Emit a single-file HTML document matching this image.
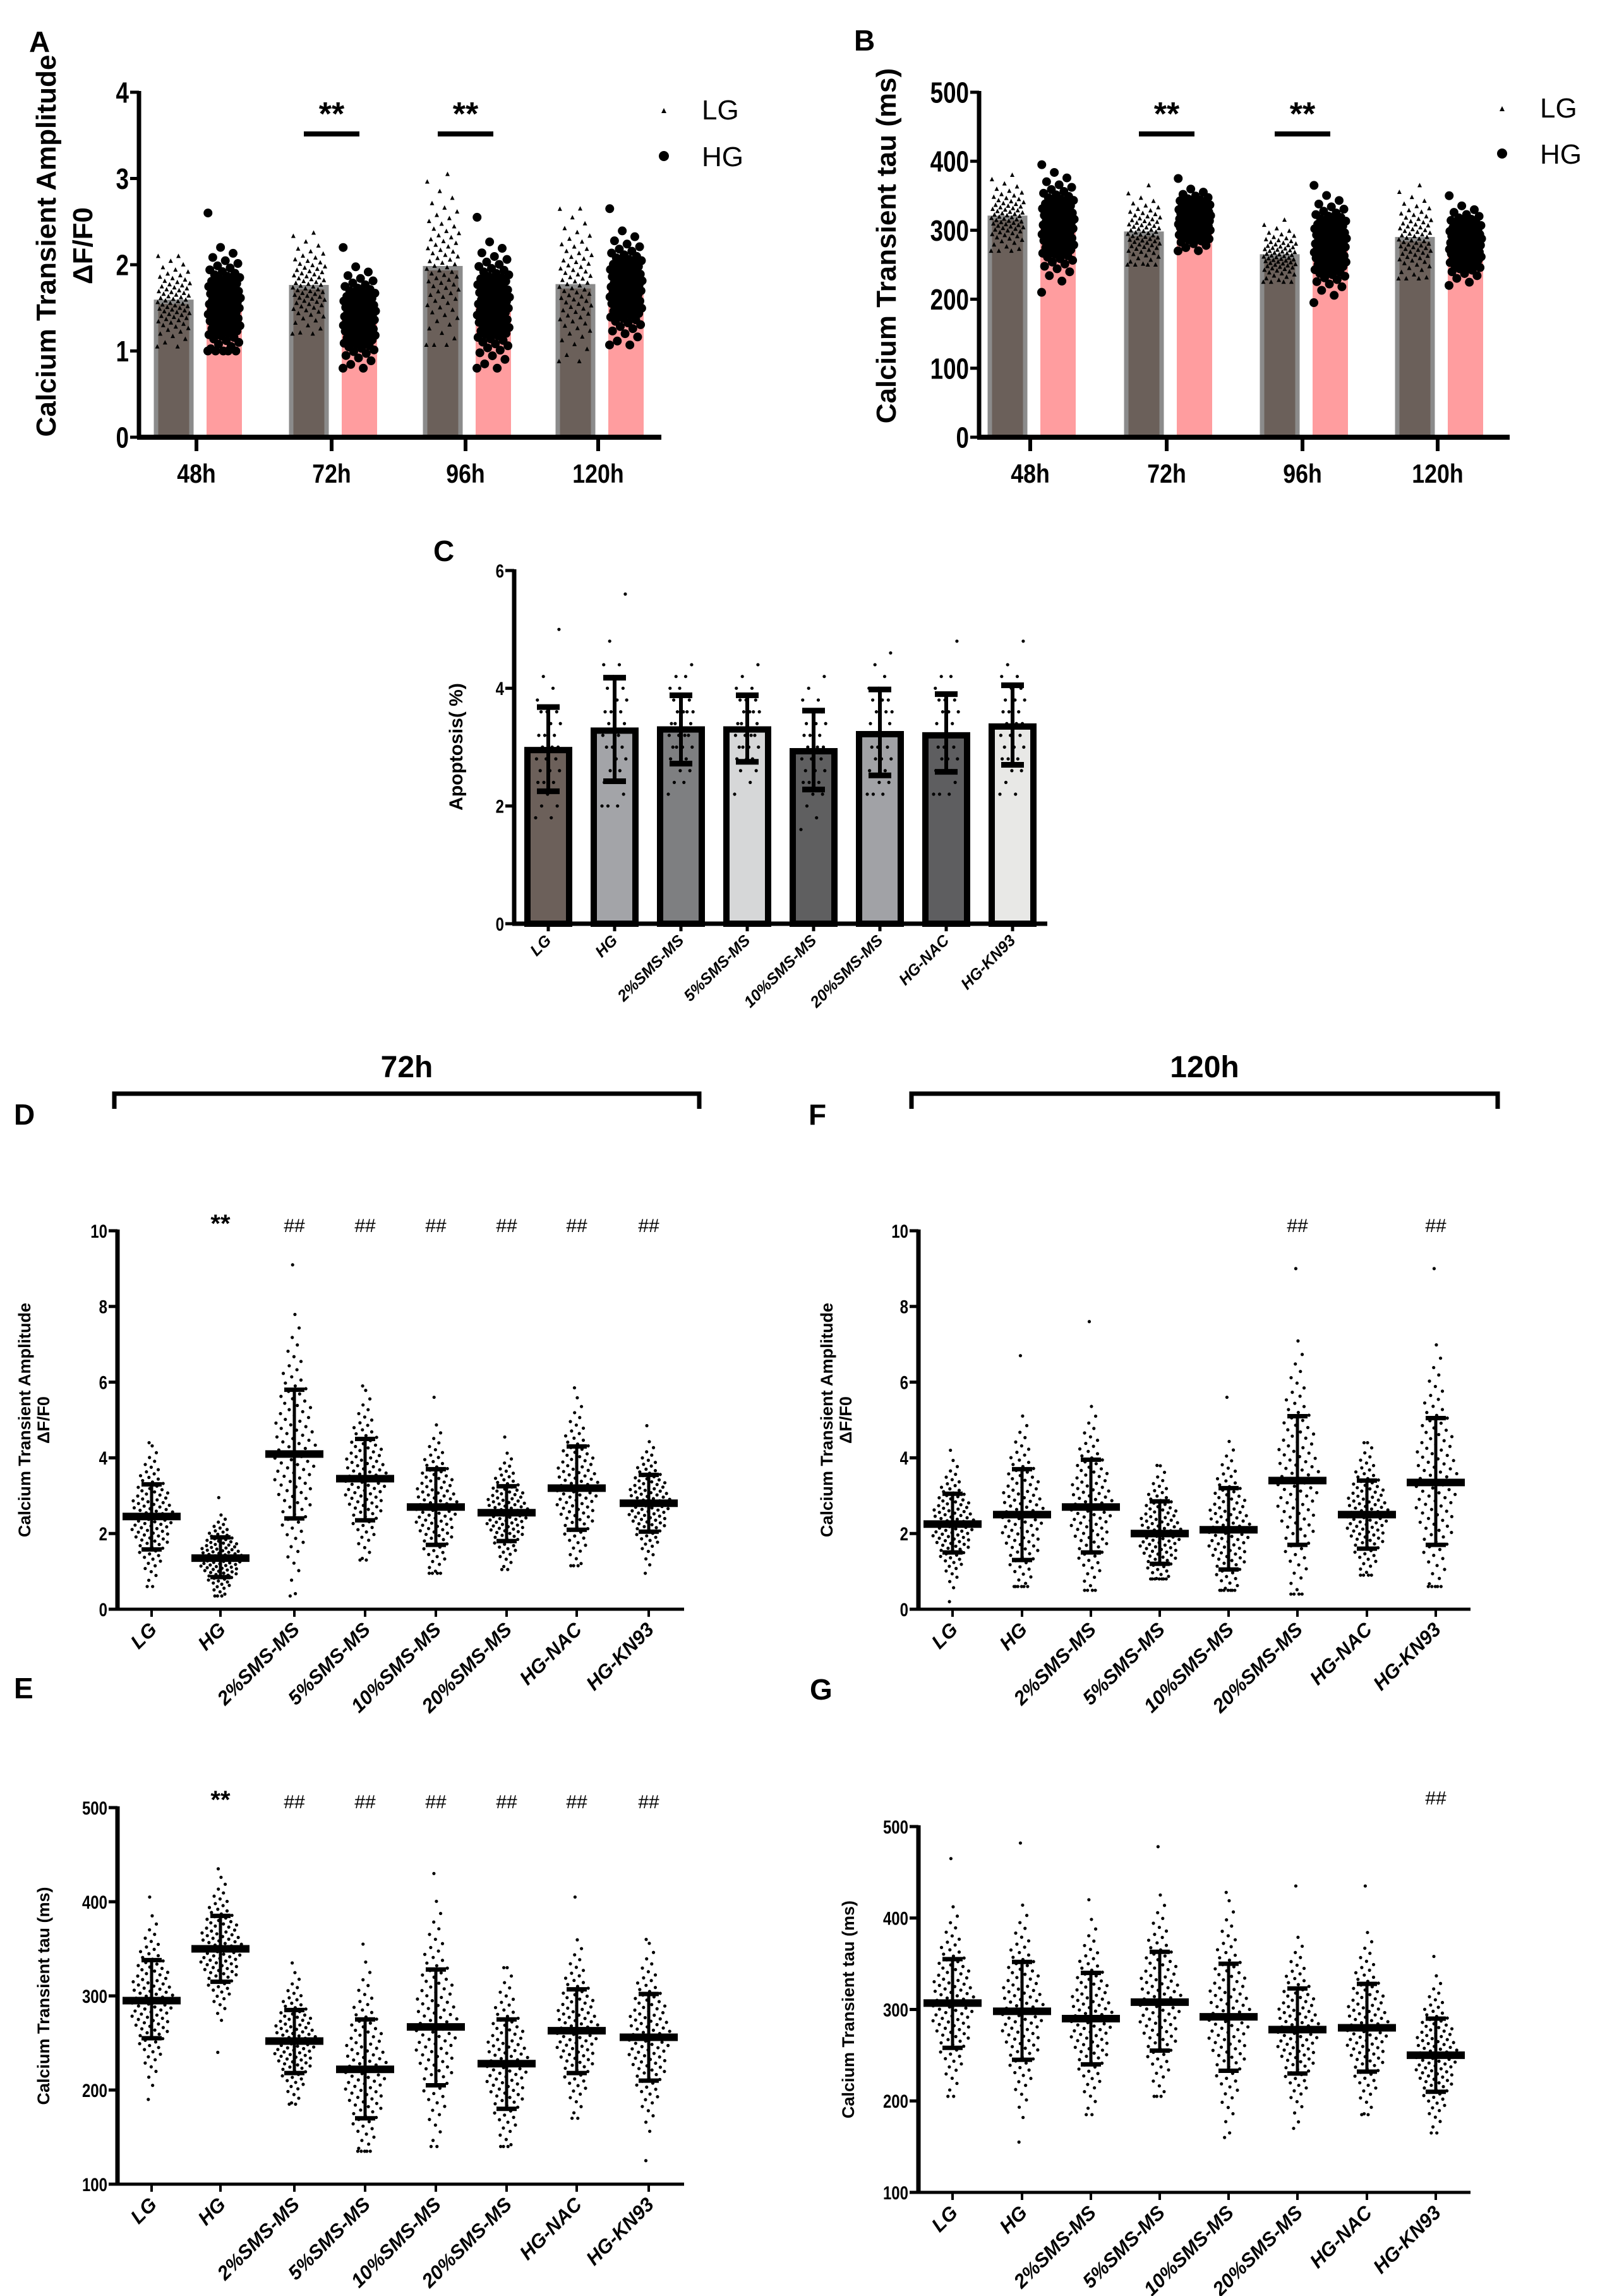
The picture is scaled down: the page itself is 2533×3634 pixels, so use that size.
<!DOCTYPE html>
<html><head><meta charset="utf-8"><style>
html,body{margin:0;padding:0;background:#fff}
svg{display:block}
text{font-family:"Liberation Sans",sans-serif;font-weight:bold;fill:#000}
</style></head><body>
<svg id="fig" width="2533" height="3634" viewBox="0 0 2533 3634" xmlns="http://www.w3.org/2000/svg"></svg>
<script>
// ---------- data ----------
const timeCats = ["48h","72h","96h","120h"];
const ampLGMean = [1.57,1.74,1.96,1.75];
const ampHGMean = [1.52,1.38,1.52,1.72];
const ampLGMin = [1.05,1.2,1.07,0.88], ampLGMax=[2.1,2.37,3.05,2.65];
const ampHGMin = [1.0,0.8,0.8,1.07], ampHGMax=[2.6,2.2,2.55,2.65];
const tauLGMean = [318,295,262,287];
const tauHGMean = [305,315,278,280];
const tauLGMin = [270,250,225,230], tauLGMax=[380,365,315,365];
const tauHGMin = [210,270,195,220], tauHGMax=[395,375,365,350];
const groups = ["LG","HG","2%SMS-MS","5%SMS-MS","10%SMS-MS","20%SMS-MS","HG-NAC","HG-KN93"];
const apoMean = [2.95,3.28,3.30,3.30,2.93,3.22,3.20,3.35];
const apoHi = [3.68,4.18,3.88,3.88,3.62,3.98,3.90,4.05];
const apoLo = [2.25,2.42,2.72,2.75,2.28,2.52,2.58,2.70];
const apoMin = [1.7,1.9,2.1,2.1,1.6,2.1,2.1,2.2], apoMax=[5.0,5.6,4.3,4.3,4.1,4.6,4.7,4.8];
const dMean=[2.45,1.35,4.1,3.45,2.7,2.55,3.2,2.8], dHi=[3.3,1.9,5.8,4.5,3.7,3.25,4.3,3.55], dLo=[1.58,0.85,2.4,2.35,1.7,1.8,2.1,2.05];
const dMin=[0.6,0.35,0.35,1.3,0.95,1.05,1.15,0.95], dMax=[4.4,2.95,9.1,5.9,5.6,4.55,5.85,4.85];
const eMean=[295,350,252,222,267,228,263,256], eHi=[338,385,285,275,328,275,307,302], eLo=[255,315,218,170,205,180,218,210];
const eMin=[190,240,185,135,140,140,170,125], eMax=[405,435,335,355,430,330,405,360];
const fMean=[2.25,2.5,2.7,2.0,2.1,3.4,2.5,3.35], fHi=[3.05,3.7,3.95,2.85,3.2,5.1,3.4,5.05], fLo=[1.5,1.3,1.5,1.2,1.05,1.7,1.6,1.7];
const fMin=[0.2,0.6,0.5,0.8,0.5,0.4,0.9,0.6], fMax=[4.2,6.7,7.6,3.8,5.6,9.0,4.4,9.0];
const gMean=[307,298,290,308,292,278,280,250], gHi=[355,352,340,363,350,323,328,290], gLo=[258,245,240,255,233,230,232,210];
const gMin=[205,155,185,205,160,170,185,165], gMax=[465,482,420,478,428,435,435,358];
const dMarks=["","**","##","##","##","##","##","##"];
const eMarks=["","**","##","##","##","##","##","##"];
const fMarks=["","","","","","##","","##"];
const gMarks=["","","","","","","","##"];
const ampTicks=[0,1,2,3,4], tauTicks=[0,100,200,300,400,500], apoTicks=[0,2,4,6];
const dTicks=[0,2,4,6,8,10], eTicks=[100,200,300,400,500];

// ---------- helpers ----------
const NS="http://www.w3.org/2000/svg", svg=document.getElementById('fig');
function mk(tag,attrs,parent){const e=document.createElementNS(NS,tag);for(const k in attrs)e.setAttribute(k,attrs[k]);(parent||svg).appendChild(e);return e;}
function txt(s,x,y,size,attrs,parent){const t=mk('text',Object.assign({x:x,y:y,'font-size':size},attrs||{}),parent);t.textContent=s;return t;}
function lin(y0v,y1v,p0,p1){return v=>p0+(v-y0v)*(p1-p0)/(y1v-y0v);}
function invN(p){
 const a=[-39.696830,220.946098,-275.928510,138.357751,-30.664798,2.506628],b=[-54.476098,161.585836,-155.698979,66.801311,-13.280681],c=[-0.007784894,-0.32239645,-2.4007583,-2.5497325,4.3746641,2.938164],d=[0.0077846957,0.32246712,2.445134,3.7544087];
 if(p<0.02425){const q=Math.sqrt(-2*Math.log(p));return(((((c[0]*q+c[1])*q+c[2])*q+c[3])*q+c[4])*q+c[5])/((((d[0]*q+d[1])*q+d[2])*q+d[3])*q+1);}
 if(p>1-0.02425){const q=Math.sqrt(-2*Math.log(1-p));return -(((((c[0]*q+c[1])*q+c[2])*q+c[3])*q+c[4])*q+c[5])/((((d[0]*q+d[1])*q+d[2])*q+d[3])*q+1);}
 const q=p-0.5,r=q*q;return(((((a[0]*r+a[1])*r+a[2])*r+a[3])*r+a[4])*r+a[5])*q/(((((b[0]*r+b[1])*r+b[2])*r+b[3])*r+b[4])*r+1);}
function spread(mean,sd,mn,mx,n){const v=[];for(let i=0;i<n;i++){let z=invN((i+0.5)/n);let x=mean+sd*z;x=Math.max(mn,Math.min(mx,x));v.push(x);}v[0]=mn;v[n-1]=mx;return v;}
function jit(i,w){return ((i*0.6180339)%1*2-1)*w;}
function yAxis(g,x,y,ticks,size){const top=y(ticks[ticks.length-1]),bot=y(ticks[0]);
 mk('line',{x1:x,y1:top-2,x2:x,y2:bot,stroke:'#000','stroke-width':7},g);
 ticks.forEach(t=>{mk('line',{x1:x-14,y1:y(t),x2:x,y2:y(t),stroke:'#000','stroke-width':5},g);
  const l=txt(String(t),x-16,y(t)+size*0.36,size,{'text-anchor':'end',transform:`translate(${x-16},0) scale(0.8,1) translate(${-(x-16)},0)`},g);
  });}
function rotLabel(s,x,y,size,g){return txt(s,x,y,size,{'text-anchor':'middle',transform:`rotate(-90 ${x} ${y})`},g);}
function panelLetter(s,x,y){const t=txt(s,x,y,46,{});}

// ---------- Panels A & B ----------
function timePanel(id,axX,axEnd,yTop,yBot,ticks,cats,lgM,hgM,lgMin,lgMax,hgMin,hgMax,sig,ylab1,ylab2,ylx,legX,legY1,legY2){
 const g=mk('g',{});  
 const y=lin(ticks[0],ticks[ticks.length-1],yBot,yTop);
 const bw=56;
 cats.forEach((c,i)=>{const cx=cats.__x[i];
  const lx=cx-64, hx=cx+16;
  const b1=mk('rect',{x:lx,y:y(lgM[i]),width:bw,height:yBot-y(lgM[i]),fill:'#6b605a',stroke:'#8b8b8b','stroke-width':7},g);
  
  const b2=mk('rect',{x:hx,y:y(hgM[i]),width:bw,height:yBot-y(hgM[i]),fill:'#ff9d9f'},g);
  
  const sl=(lgMax[i]-lgMin[i])/4, sh=(hgMax[i]-hgMin[i])/5;
  spread(lgM[i],sl,lgMin[i],lgMax[i],70).forEach((v,k)=>{const px=lx+bw/2+jit(k,26),py=y(v);
   const p=mk('path',{d:`M${px} ${py-4}L${px+3.5} ${py+3}L${px-3.5} ${py+3}Z`,fill:'#000'},g);
   });
  spread(hgM[i],sh,hgMin[i],hgMax[i],90).forEach((v,k)=>{const p=mk('circle',{cx:hx+bw/2+jit(k,26),cy:y(v),r:7,fill:'#000'},g);
   });
  mk('line',{x1:cx,y1:yBot,x2:cx,y2:yBot+22,stroke:'#000','stroke-width':6},g);
  const cl=txt(c,cx,yBot+72,42,{'text-anchor':'middle',transform:`translate(${cx},0) scale(0.85,1) translate(${-cx},0)`},g);
  
 });
 mk('line',{x1:axX-3,y1:yBot,x2:axEnd,y2:yBot,stroke:'#000','stroke-width':8},g);
 yAxis(g,axX,y,ticks,46);
 sig.forEach(s=>{const cx=cats.__x[s];const yy=y(ticks[ticks.length-1])+66;
  mk('line',{x1:cx-44,y1:yy,x2:cx+44,y2:yy,stroke:'#000','stroke-width':8},g);
  const t=txt('**',cx,yy-14,52,{'text-anchor':'middle'},g);});
 const t1=rotLabel(ylab1,ylx,(yTop+yBot)/2-30,44,g);
 if(ylab2){const t2=rotLabel(ylab2,ylx+58,(yTop+yBot)/2-30,44,g);}
 const l1=mk('path',{d:`M${legX} ${legY1-10}L${legX+4} ${legY1-2}L${legX-4} ${legY1-2}Z`,fill:'#000'},g);
 const l2=mk('circle',{cx:legX,cy:legY2-8,r:8,fill:'#000'},g);
 const lt1=txt('LG',legX+60,legY1+8,44,{style:'font-weight:normal'},g);
 const lt2=txt('HG',legX+60,legY2+8,44,{style:'font-weight:normal'},g);
}
const catsA=timeCats.slice();catsA.__x=[311,525,737,947];
timePanel('panel-a-amplitude',220,1047,146,692,ampTicks,catsA,ampLGMean,ampHGMean,ampLGMin,ampLGMax,ampHGMin,ampHGMax,[1,2],'Calcium Transient Amplitude','ΔF/F0',88,1051,181,255);
const catsB=timeCats.slice();catsB.__x=[1631,1847,2062,2276];
timePanel('panel-b-tau',1550,2390,146,692,tauTicks,catsB,tauLGMean,tauHGMean,tauLGMin,tauLGMax,tauHGMin,tauHGMax,[1,2],'Calcium Transient tau (ms)',null,1418,2378,178,251);
panelLetter('A',46,82);panelLetter('B',1352,80);

// ---------- Panel C ----------
(function(){const g=mk('g',{});
 const y=lin(0,6,1462,903), ax=814, step=105, x0=868;
 const fills=['#6c605a','#a3a4a8','#7e7f81','#d6d7d8','#5f5f60','#a1a2a6','#5e5e60','#e8e8e6'];
 groups.forEach((gname,i)=>{const cx=x0+i*step;
  const b=mk('rect',{x:cx-33,y:y(apoMean[i]),width:66,height:1462-y(apoMean[i]),fill:fills[i],stroke:'#000','stroke-width':10},g);
  
  spread(apoMean[i],(apoHi[i]-apoLo[i])/2,apoMin[i],apoMax[i],30).forEach((v,k)=>{const q=Math.round(v*5)/5;const p=mk('circle',{cx:cx+jit(k,20),cy:y(q),r:2.6,fill:'#000'},g);});
  mk('line',{x1:cx,y1:y(apoHi[i]),x2:cx,y2:y(apoLo[i]),stroke:'#000','stroke-width':6},g);
  mk('line',{x1:cx-18,y1:y(apoHi[i]),x2:cx+18,y2:y(apoHi[i]),stroke:'#000','stroke-width':9},g);
  mk('line',{x1:cx-18,y1:y(apoLo[i]),x2:cx+18,y2:y(apoLo[i]),stroke:'#000','stroke-width':9},g);
  mk('line',{x1:cx,y1:1462,x2:cx,y2:1474,stroke:'#000','stroke-width':5},g);
  const l=txt(gname,cx+6,1490,25,{'text-anchor':'end',style:'font-style:italic',transform:`rotate(-45 ${cx+6} 1490)`},g);
 });
 mk('line',{x1:ax-3,y1:1462,x2:1658,y2:1462,stroke:'#000','stroke-width':7},g);
 yAxis(g,ax,y,apoTicks,30);
 const t=rotLabel('Apoptosis( %)',732,1182,30,g);
})();
panelLetter('C',686,888);

// ---------- Scatter panels D-G ----------
function scatter(id,ax,axEnd,yTop,yBot,ticks,xs,mean,hi,lo,mn,mx,marks,ylab1,ylab2,ylx,markY){
 const g=mk('g',{});
 const y=lin(ticks[0],ticks[ticks.length-1],yBot,yTop);
 groups.forEach((gname,i)=>{const cx=xs[i];
  spread(mean[i],(hi[i]-lo[i])/2,mn[i],mx[i],100).forEach((v,k)=>{const p=mk('circle',{cx:cx+jit(k,30*Math.exp(-Math.pow((v-mean[i])/((hi[i]-lo[i])/2),2)/2)+4),cy:y(v),r:2.6,fill:'#000'},g);});
  mk('line',{x1:cx,y1:y(hi[i]),x2:cx,y2:y(lo[i]),stroke:'#000','stroke-width':5},g);
  mk('line',{x1:cx-16,y1:y(hi[i]),x2:cx+16,y2:y(hi[i]),stroke:'#000','stroke-width':7},g);
  mk('line',{x1:cx-16,y1:y(lo[i]),x2:cx+16,y2:y(lo[i]),stroke:'#000','stroke-width':7},g);
  const m=mk('line',{x1:cx-46,y1:y(mean[i]),x2:cx+46,y2:y(mean[i]),stroke:'#000','stroke-width':12},g);
  mk('line',{x1:cx,y1:yBot,x2:cx,y2:yBot+12,stroke:'#000','stroke-width':4},g);
  const l=txt(gname,cx+10,yBot+34,31,{'text-anchor':'end',style:'font-style:italic',transform:`rotate(-45 ${cx+10} ${yBot+34})`},g);
  if(marks[i]){const star=marks[i]=='**';const t=txt(marks[i],cx,markY,star?40:30,{'text-anchor':'middle',style:star?'':'font-weight:normal'},g);}
 });
 mk('line',{x1:ax-3,y1:yBot,x2:axEnd,y2:yBot,stroke:'#000','stroke-width':5},g);
 yAxis(g,ax,y,ticks,30);
 const t1=rotLabel(ylab1,ylx,(yTop+yBot)/2,27,g);
 if(ylab2){const t2=rotLabel(ylab2,ylx+30,(yTop+yBot)/2,27,g);}
}
const xsL=[240,349,466,578,690,802,913,1027], xsR=[1508,1618,1727,1836,1945,2054,2164,2273];
scatter('panel-d-amplitude-72h',186,1083,1948,2547,dTicks,xsL,dMean,dHi,dLo,dMin,dMax,dMarks,'Calcium Transient Amplitude','ΔF/F0',48,1950);
scatter('panel-e-tau-72h',186,1083,2861,3457,eTicks,xsL,eMean,eHi,eLo,eMin,eMax,eMarks,'Calcium Transient tau (ms)',null,78,2862);
scatter('panel-f-amplitude-120h',1454,2328,1948,2547,dTicks,xsR,fMean,fHi,fLo,fMin,fMax,fMarks,'Calcium Transient Amplitude','ΔF/F0',1318,1950);
scatter('panel-g-tau-120h',1454,2328,2891,3470,eTicks,xsR,gMean,gHi,gLo,gMin,gMax,gMarks,'Calcium Transient tau (ms)',null,1352,2856);
panelLetter('D',22,1780);panelLetter('E',22,2688);panelLetter('F',1280,1780);panelLetter('G',1282,2690);

// brackets
function bracket(name,x1,x2,yl,label){const g=mk('g',{});
 mk('path',{d:`M${x1} ${yl+24}V${yl}H${x2}V${yl+24}`,fill:'none',stroke:'#000','stroke-width':7},g);
 txt(label,(x1+x2)/2,yl-26,48,{'text-anchor':'middle'},g);}
bracket('bracket-72h',181,1107,1731,'72h');
bracket('bracket-120h',1443,2371,1731,'120h');
</script>
</body></html>
